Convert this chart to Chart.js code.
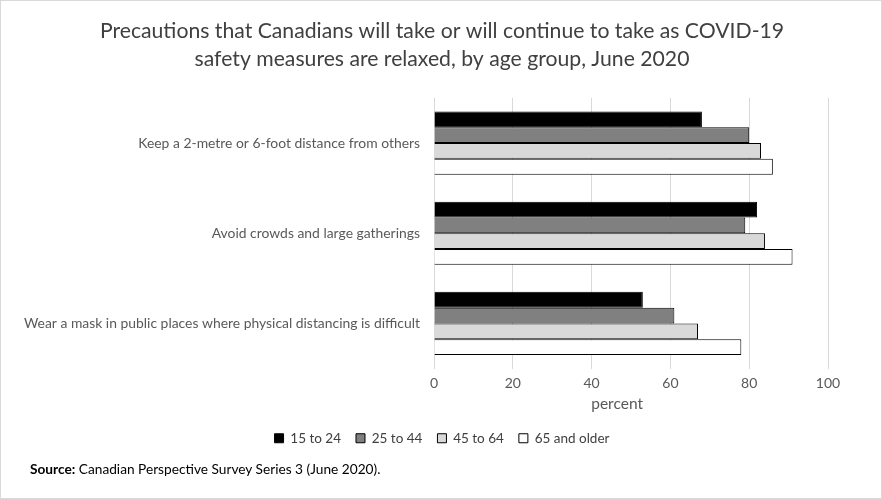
<!DOCTYPE html>
<html>
<head>
<meta charset="utf-8">
<script src="https://cdn.jsdelivr.net/npm/chart.js@4.4.0/dist/chart.umd.min.js"></script>
<style>
    body { margin: 0; background: #fff; }
    .wrap { position: relative; width: 882px; height: 499px; box-sizing: border-box; border: 1px solid #d9d9d9; }
    canvas { position: absolute; left: 0; top: 0; }
    .source { position: absolute; left: 29px; top: 459px; font-family: Lato, sans-serif; font-size: 13.7px; color: #000; }
</style>
</head>
<body>
<div class="wrap">
    <canvas id="myChart" width="882" height="499"></canvas>
    <div class="source"><b>Source:</b> Canadian Perspective Survey Series 3 (June 2020).</div>
</div>
<script>
    let categories = [
        'Keep a 2-metre or 6-foot distance from others',
        'Avoid crowds and large gatherings',
        'Wear a mask in public places where physical distancing is difficult'
    ];
    let ageGroups = ['15 to 24', '25 to 44', '45 to 64', '65 and older'];
    let age15to24 = [68, 82, 53];
    let age25to44 = [80, 79, 61];
    let age45to64 = [83, 84, 67];
    let age65plus = [86, 91, 78];
    let xTicks = [0, 20, 40, 60, 80, 100];

    let fills = ['#000000', '#808080', '#d9d9d9', '#ffffff'];
    let values = [age15to24, age25to44, age45to64, age65plus];

    let datasets = ageGroups.map((g, i) => ({
        label: g,
        data: values[i],
        backgroundColor: fills[i],
        borderColor: '#000000',
        borderWidth: 1,
        barPercentage: 1,
        categoryPercentage: 0.7
    }));

    var ctx = document.getElementById('myChart').getContext('2d');
    var myBarChart = new Chart(ctx, {
        type: 'bar',
        data: {
            labels: categories,
            datasets: datasets
        },
        options: {
            indexAxis: 'y',
            responsive: false,
            animation: false,
            layout: { padding: { left: 0, right: 0, top: 0, bottom: 45 } },
            scales: {
                x: {
                    min: 0,
                    max: 100,
                    afterBuildTicks: scale => { scale.ticks = xTicks.map(v => ({ value: v })); },
                    afterFit: scale => { scale.height = 48; },
                    grid: { color: '#d9d9d9', drawTicks: false },
                    border: { display: false },
                    ticks: { padding: 7, color: '#595959', font: { family: 'Lato', size: 14 } },
                    // trailing spaces nudge the title a bit left, like the original
                    title: { display: true, text: 'percent       ', color: '#595959', padding: { top: 0, bottom: 3 }, font: { family: 'Lato', size: 15.5 } }
                },
                y: {
                    afterFit: scale => { scale.width = 433; },
                    grid: { display: false, drawTicks: false },
                    border: { display: false },
                    ticks: { padding: 14, color: '#595959', font: { family: 'Lato', size: 13.9 } }
                },
                // empty right axis, just keeps the plot off the right edge
                spacer: {
                    type: 'category',
                    position: 'right',
                    afterFit: scale => { scale.width = 55; },
                    grid: { display: false, drawTicks: false },
                    border: { display: false },
                    ticks: { display: false }
                }
            },
            plugins: {
                title: {
                    display: true,
                    text: ['Precautions that Canadians will take or will continue to take as COVID-19', 'safety measures are relaxed, by age group, June 2020'],
                    color: '#404040',
                    font: { family: 'Lato', size: 21.2, weight: 'normal', lineHeight: 28 / 21.2 },
                    padding: { top: 16, bottom: 25 }
                },
                legend: {
                    position: 'bottom',
                    labels: { boxWidth: 9, boxHeight: 9, padding: 15, color: '#404040', font: { family: 'Lato', size: 13.5 } }
                },
                tooltip: { enabled: false }
            }
        }
    });
</script>
</body>
</html>
